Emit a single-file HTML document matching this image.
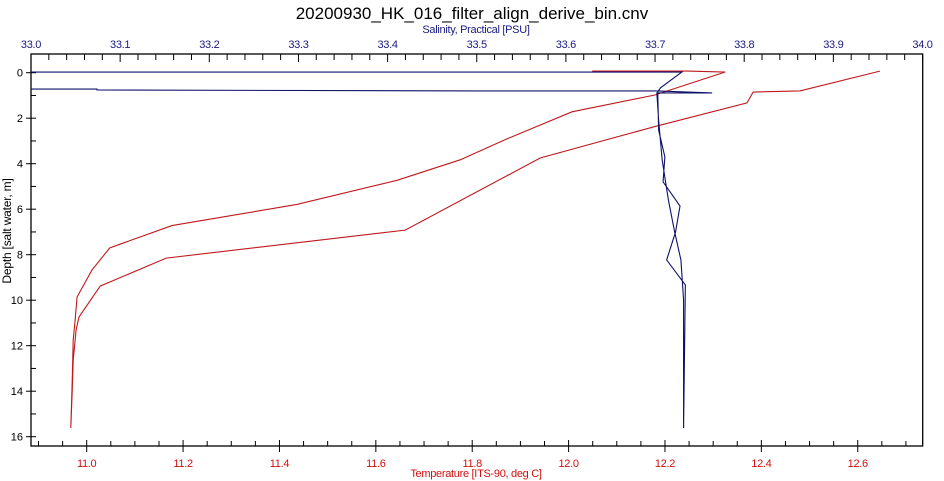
<!DOCTYPE html>
<html><head><meta charset="utf-8"><style>
body{margin:0;background:#fff;}
svg{display:block;font-family:"Liberation Sans",sans-serif;}
</style></head><body>
<svg id="chart" width="944" height="481" viewBox="0 0 944 481" xmlns="http://www.w3.org/2000/svg">
<rect x="0" y="0" width="944" height="481" fill="#fff"/>
<text x="472" y="19" text-anchor="middle" font-size="17" fill="#000">20200930_HK_016_filter_align_derive_bin.cnv</text>
<text x="476" y="33" text-anchor="middle" font-size="11" letter-spacing="-0.3" fill="#1a1a80">Salinity, Practical [PSU]</text>
<text x="476" y="477" text-anchor="middle" font-size="11" letter-spacing="-0.3" fill="#d01010">Temperature [ITS-90, deg C]</text>
<text transform="translate(11,231) rotate(-90)" text-anchor="middle" font-size="12" letter-spacing="-0.2" fill="#000">Depth [salt water, m]</text>
<g id="axes"></g>
<g id="series"></g>
</svg>
<script>
// data
const tempTicks = [11.0, 11.2, 11.4, 11.6, 11.8, 12.0, 12.2, 12.4, 12.6];
const salTicks = [33.0, 33.1, 33.2, 33.3, 33.4, 33.5, 33.6, 33.7, 33.8, 33.9, 34.0];
const depthTicks = [0, 2, 4, 6, 8, 10, 12, 14, 16];
const tempValues = [12.049,12.246,12.325,12.179,12.007,11.872,11.775,11.644,11.436,11.177,11.048,11.011,10.980,10.976,10.972,10.970,10.967,10.970,10.972,10.978,10.984,11.028,11.165,11.661,11.941,12.175,12.370,12.383,12.480,12.646];
const tempDepths = [-0.07,-0.07,-0.03,0.98,1.72,2.91,3.83,4.73,5.79,6.72,7.70,8.67,9.86,10.87,11.75,13.51,15.62,13.95,12.63,11.31,10.74,9.38,8.15,6.92,3.75,2.39,1.33,0.85,0.80,-0.07];
const salValues = [33.000,33.730,33.706,33.703,33.704,33.711,33.709,33.728,33.723,33.713,33.734,33.732,33.732,33.729,33.722,33.715,33.708,33.704,33.702,33.764,33.702,33.500,33.074,33.074,33.000];
const salDepths = [-0.03,-0.03,0.67,0.85,2.52,3.70,4.80,5.86,7.00,8.23,9.33,15.62,9.99,8.23,7.00,5.60,3.84,2.08,0.89,0.89,0.80,0.80,0.76,0.72,0.72];

const L=31,R=922.7,T=54,B=446;
const xT=v=>86.7+(v-11)*481.9;
const xS=v=>L+(v-33)*891.5;
const yD=v=>72.7+v*22.75;
const NS="http://www.w3.org/2000/svg";
function mk(tag,attrs,parent){const e=document.createElementNS(NS,tag);for(const k in attrs)e.setAttribute(k,attrs[k]);parent.appendChild(e);return e;}
const ax=document.getElementById('axes');
const frame=mk('rect',{x:L,y:T,width:R-L,height:B-T,fill:'none',stroke:'#000','stroke-width':1.3},ax);


for(let v=10.9;v<=12.74;v+=0.05){const x=xT(v);if(x<L+1||x>R-1)continue;
 const maj=Math.abs(v*10-Math.round(v*10))<0.01&&Math.round(v*10)%2===0;
 mk('line',{x1:x,x2:x,y1:maj?B-6:B-5,y2:maj?B+6:B,stroke:'#000','stroke-width':1},ax);}
tempTicks.forEach(v=>{const t=mk('text',{x:xT(v),y:467,'text-anchor':'middle','font-size':11,'letter-spacing':'-0.3',fill:'#d01010'},ax);t.textContent=v.toFixed(1);
 
 });
for(let i=0;i<=50;i++){const v=33+i*0.02;const x=xS(v);const maj=i%5===0;
 mk('line',{x1:x,x2:x,y1:T,y2:maj?T+8:T+6,stroke:'#000','stroke-width':1},ax);}
salTicks.forEach(v=>{const t=mk('text',{x:xS(v),y:48,'text-anchor':'middle','font-size':11,'letter-spacing':'-0.3',fill:'#1a1a80'},ax);t.textContent=v.toFixed(1);
 
 });
for(let d=0;d<=16;d++){const y=yD(d);const maj=d%2===0;
 mk('line',{x1:maj?L-5:L,x2:L+5,y1:y,y2:y,stroke:'#000','stroke-width':1},ax);}
depthTicks.forEach(v=>{const t=mk('text',{x:L-8,y:yD(v)+4,'text-anchor':'end','font-size':11,fill:'#000'},ax);t.textContent=v;
 
 });
const sg=document.getElementById('series');
const tp=mk('polyline',{points:tempValues.map((v,i)=>xT(v)+','+yD(tempDepths[i])).join(' '),fill:'none',stroke:'#c0181c','stroke-width':1.1},sg);


const sp=mk('polyline',{points:salValues.map((v,i)=>xS(v)+','+yD(salDepths[i])).join(' '),fill:'none',stroke:'#10106a','stroke-width':1.1},sg);


</script>
</body></html>
